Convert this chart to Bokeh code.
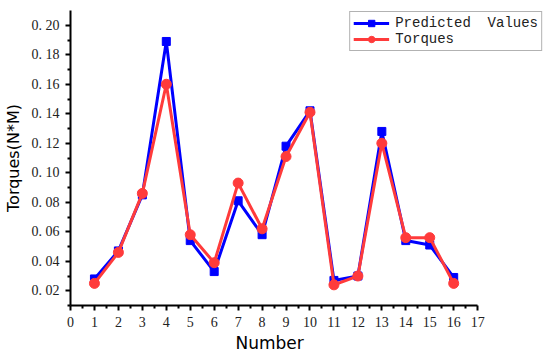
from bokeh.plotting import figure
from bokeh.models import Range1d, FixedTicker, Legend, LegendItem, ColumnDataSource, Title
from bokeh.embed import file_html
from bokeh.resources import INLINE

numbers = list(range(1, 17))
predicted = [0.028, 0.047, 0.085, 0.189, 0.054, 0.033, 0.081, 0.058,
             0.118, 0.142, 0.027, 0.030, 0.128, 0.054, 0.051, 0.029]
torques = [0.025, 0.046, 0.086, 0.160, 0.058, 0.039, 0.093, 0.062,
           0.111, 0.141, 0.024, 0.030, 0.120, 0.056, 0.056, 0.025]
y_ticks = [0.02, 0.04, 0.06, 0.08, 0.10, 0.12, 0.14, 0.16, 0.18, 0.20]
y_tick_labels = ["0. 02", "0. 04", "0. 06", "0. 08", "0. 10", "0. 12", "0. 14", "0. 16", "0. 18", "0. 20"]
x_ticks = list(range(0, 18))
x_title = "Number"
y_title = "Torques(N*M)"

BLUE = "#0000FF"
RED = "#FF3B3B"
SERIF = "Liberation Serif"

p = figure(width=549, height=355, output_backend="svg", toolbar_location=None,
           x_range=Range1d(0, 19.75), y_range=Range1d(0.01, 0.21),
           min_border_left=69, min_border_right=6, min_border_top=10, min_border_bottom=50)
p.outline_line_color = None
p.grid.visible = False
p.background_fill_color = "white"

src = ColumnDataSource(dict(x=numbers, pred=predicted, tor=torques))
l1 = p.line("x", "pred", source=src, line_color=BLUE, line_width=3)
m1 = p.scatter("x", "pred", source=src, marker="square", size=8, fill_color=BLUE, line_color=BLUE)
l2 = p.line("x", "tor", source=src, line_color=RED, line_width=3)
m2 = p.scatter("x", "tor", source=src, marker="circle", size=10, fill_color=RED, line_color=RED)

for ax in (p.xaxis[0], p.yaxis[0]):
    ax.axis_line_width = 2
    ax.axis_line_color = "black"
    ax.major_tick_line_width = 2
    ax.minor_tick_line_width = 2
    ax.major_tick_out = 5
    ax.major_tick_in = 0
    ax.minor_tick_out = 3
    ax.minor_tick_in = 0
    ax.major_label_text_font = SERIF
    ax.major_label_text_font_size = "14px"
    ax.major_label_text_color = "#222222"
    ax.axis_label_text_font = "DejaVu Sans"
    ax.axis_label_text_font_style = "normal"
    ax.axis_label_text_font_size = "16px"
    ax.axis_label_text_color = "black"

p.xaxis.bounds = (0, 17)
p.yaxis.bounds = (0.01, 0.21)
p.xaxis.ticker = FixedTicker(ticks=x_ticks, minor_ticks=[i + 0.5 for i in range(17)])
p.yaxis.ticker = FixedTicker(ticks=y_ticks, minor_ticks=[0.01 + 0.02 * i for i in range(11)])
p.yaxis.major_label_overrides = {t: s for t, s in zip(y_ticks, y_tick_labels)}
p.yaxis.axis_label = y_title
p.xaxis.major_label_standoff = 6
p.yaxis.major_label_standoff = 6
p.yaxis.axis_label_standoff = 6

xtitle = Title(text=x_title, align="left", offset=165, standoff=2,
               text_font="DejaVu Sans", text_font_size="17px",
               text_font_style="normal", text_color="black")
p.add_layout(xtitle, "below")

legend = Legend(items=[LegendItem(label="Predicted\u00a0\u00a0Values", renderers=[l1, m1]),
                       LegendItem(label="Torques", renderers=[l2, m2])],
                location="top_right", margin=1, padding=3, spacing=0,
                label_text_font="Liberation Mono", label_text_font_size="14px",
                label_text_color="#222222",
                label_height=16, glyph_height=16, glyph_width=36, label_standoff=6,
                border_line_color="#666666", border_line_width=1,
                background_fill_color="white", background_fill_alpha=1)
p.add_layout(legend)

open("out.html", "w").write(file_html(p, INLINE))
